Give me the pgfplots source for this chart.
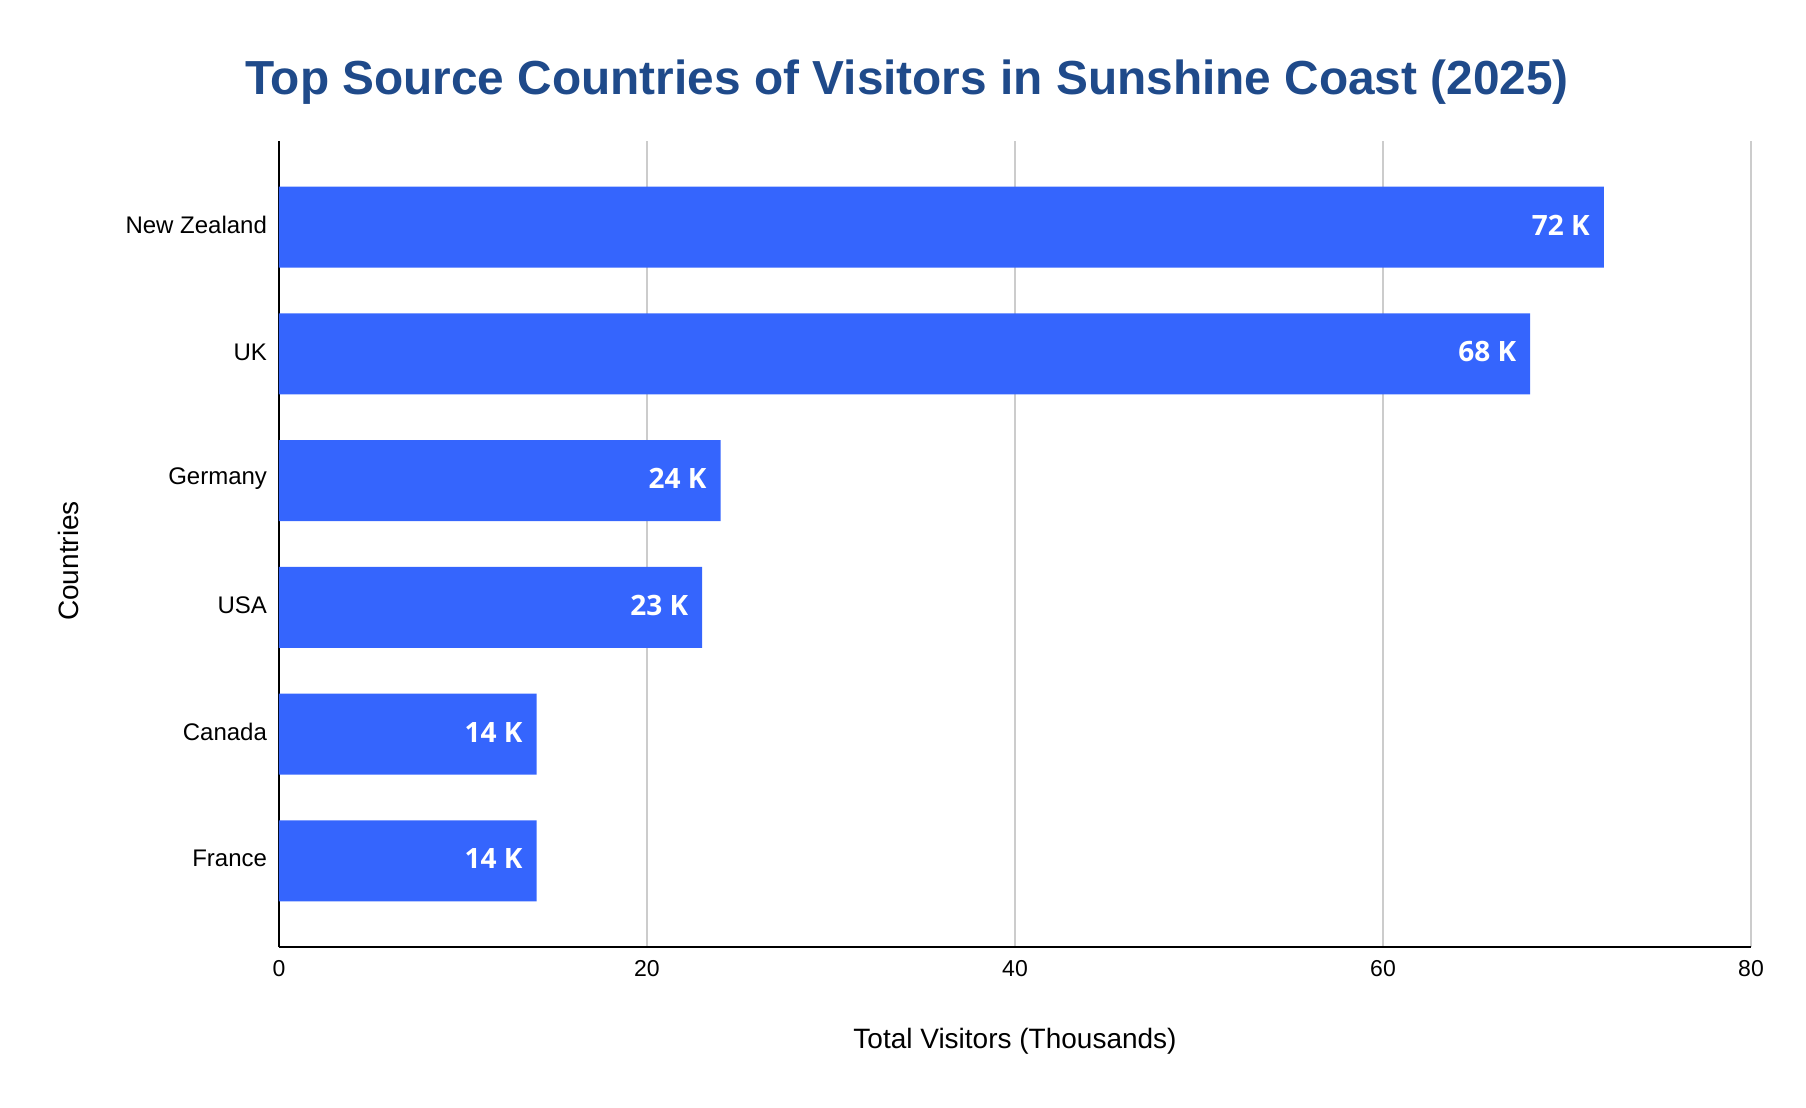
\documentclass[border=0pt]{standalone}
\usepackage{pgfplots}
\pgfplotsset{compat=1.18}
\usepackage{fontspec}
\setmainfont{Liberation Sans}
\newfontfamily\barfont{Open Sans}
\definecolor{barblue}{HTML}{3565FD}
\definecolor{titleblue}{HTML}{1F4A8A}
\definecolor{gridgray}{HTML}{CCCCCC}
\begin{document}
\begin{tikzpicture}
\path[use as bounding box] (-139.5bp,-80.5bp) rectangle (763.5bp,473.5bp);
\begin{axis}[
  at={(0,0)}, anchor=south west,
  scale only axis,
  width=736bp, height=403bp,
  xbar, bar width=40.5bp,
  xmin=0, xmax=80,
  ymin=-0.68, ymax=5.68,
  xtick={0,20,40,60,80},
  ytick={0,1,2,3,4,5},
  yticklabels={France,Canada,USA,Germany,UK,New Zealand},
  axis lines*=left,
  axis line style={black, line width=1bp},
  major tick length=0pt,
  xmajorgrids,
  grid style={gridgray, line width=0.8bp},
  /pgf/number format/assume math mode=true,
  xticklabel style={font=\fontsize{11.5bp}{13bp}\selectfont, yshift=-3bp},
  yticklabel style={font=\fontsize{12bp}{14bp}\selectfont, xshift=-2.5bp, yshift=1bp},
  xlabel={Total Visitors (Thousands)},
  ylabel={Countries},
  label style={font=\fontsize{14bp}{16bp}\selectfont},
  xlabel style={at={(axis description cs:0.5,-0.117)}, anchor=center},
  ylabel style={at={(axis description cs:-0.1427,0.479)}, anchor=center, rotate=0},
  nodes near coords={\pgfmathprintnumber{\pgfplotspointmeta} K},
  nodes near coords style={anchor=east, xshift=-3.5bp, yshift=1bp, text=white, font=\barfont\bfseries\fontsize{14bp}{16bp}\selectfont},
  clip=false,
]
\addplot[fill=barblue, draw=none] coordinates {
  (14,0) (14,1) (23,2) (24,3) (68,4) (72,5)
};
\end{axis}
\node[font=\bfseries\fontsize{23.9bp}{28bp}\selectfont, text=titleblue] at (314bp,432.5bp) {Top Source Countries of Visitors in Sunshine Coast (2025)};
\end{tikzpicture}
\end{document}
